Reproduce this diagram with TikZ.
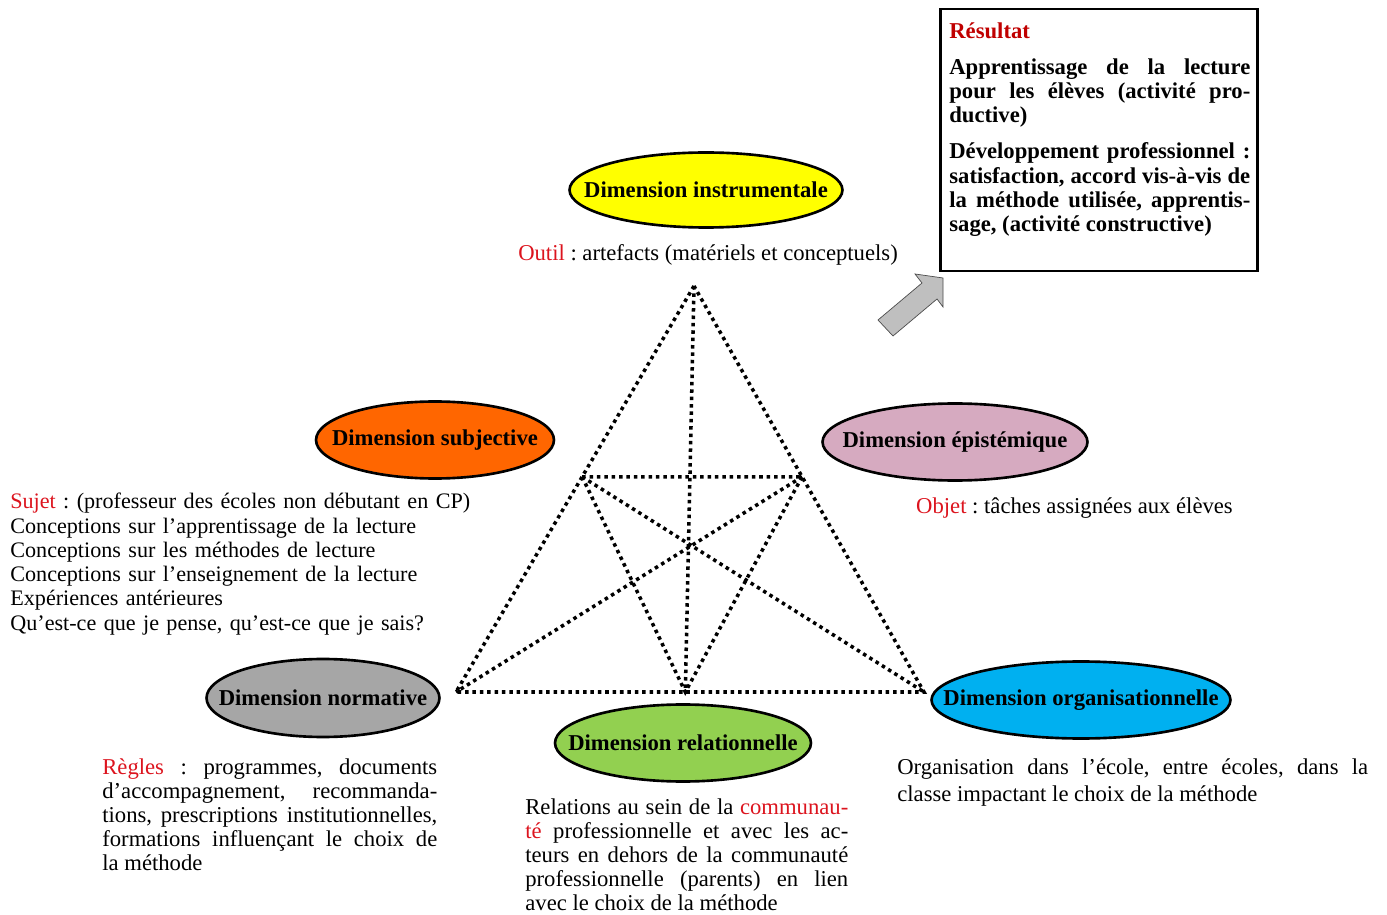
\documentclass[tikz,border=0pt]{standalone}
\usepackage{fontspec}
\setmainfont{Liberation Serif}
\usetikzlibrary{calc,shapes.geometric}
\definecolor{vang}{RGB}{255,255,0}
\definecolor{cam}{RGB}{255,102,0}
\definecolor{hong}{RGB}{214,170,192}
\definecolor{xam}{RGB}{166,166,166}
\definecolor{xanhla}{RGB}{146,208,80}
\definecolor{xanhduong}{RGB}{0,176,240}
\definecolor{do}{RGB}{220,20,30}
\definecolor{dodam}{RGB}{192,0,0}
\newcommand{\dong}[1]{\makebox[\linewidth][s]{#1}\\}
\frenchspacing
\begin{document}
\begin{tikzpicture}
  [x=.02cm,y=-.02cm,
  font=\fontsize{12.9}{13.8}\selectfont,
  chieu/.style={ellipse,draw,line width=1.5pt,inner sep=0pt},
  cham/.style={line width=2pt,dash pattern=on 2pt off 2.2pt},
  chu/.style={inner sep=0pt,align=justify}]
  \useasboundingbox (0,0) rectangle (1387,915);
  \path
  (694,286) coordinate (A)
  (456,692) coordinate (B)
  (924,692) coordinate (C)
  ($(A)!.47!(B)$) coordinate (P)
  ($(A)!.47!(C)$) coordinate (Q)
  ($(B)!.49!(C)$) coordinate (R);
  % tam giác và các đường chấm
  \draw[cham] (A)--(B)--(C)--cycle (A)--(R) (P)--(Q)
  (P)--(C) (Q)--(B) (P)--(R)--(Q);
  % các chiều
  \foreach \n/\x/\y/\w/\h/\c/\t in {
    I/706/190/5.46/1.50/vang/Dimension instrumentale,
    S/435/440/4.76/1.54/cam/Dimension subjective,
    E/955/442/5.30/1.54/hong/Dimension épistémique,
    N/323/698/4.66/1.56/xam/Dimension normative,
    R/683/743/5.12/1.54/xanhla/Dimension relationnelle,
    O/1081/700/5.98/1.54/xanhduong/Dimension organisationnelle}
  \node[chieu,fill=\c,minimum width=\w cm,minimum height=\h cm,
  label={[font=\fontsize{12.9}{13.8}\selectfont\bfseries]center:\t}]
  (\n) at (\x,\y) {};
  % kết quả
  \draw[line width=1.7pt] (940,9) rectangle (1257,271);
  \node[chu,text width=6.02cm,anchor=base west,font=\fontsize{12.9}{13.8}\selectfont\bfseries]
  (ketqua) at (949,39) {%
    {\color{dodam}Résultat}\par\vspace{6.3pt}
    \dong{Apprentissage de la lecture}
    \dong{pour les élèves (activité pro-}
    ductive)\par\vspace{6.8pt}
    \dong{Développement professionnel :}
    \dong{satisfaction, accord vis-à-vis de}
    \dong{la méthode utilisée, apprentis-}
    sage, (activité constructive)};
  \draw[fill=black!25,draw=black!70]
  (878,320)--(922,283)--(915,274)--(943,278)--(943,307)--(937,299)--(893,336)--cycle;
  % các dòng chữ
  \node[anchor=base] (outil) at (708,261)
  {\textcolor{do}{Outil} : artefacts (matériels et conceptuels)};
  \node[anchor=base west] (objet) at (910,514)
  {\textcolor{do}{Objet} : tâches assignées aux élèves};
  \node[chu,text width=9.5cm,align=left,anchor=base west,
  font=\fontsize{12.6}{13.8}\selectfont] (sujet) at (10,509)
  {\textcolor{do}{Sujet} : (professeur des écoles non débutant en CP)\\
    Conceptions sur l’apprentissage de la lecture\\
    Conceptions sur les méthodes de lecture\\
    Conceptions sur l’enseignement de la lecture\\
    Expériences antérieures\\
    Qu’est-ce que je pense, qu’est-ce que je sais?};
  \node[chu,text width=6.7cm,anchor=base west] (regles) at (102,774)
  {\dong{\textcolor{do}{Règles} : programmes, documents}
    \dong{d’accompagnement, recommanda-}
    \dong{tions, prescriptions institutionnelles,}
    \dong{formations influençant le choix de}
    la méthode};
  \node[chu,text width=6.46cm,anchor=base west] (relations) at (525,814)
  {\dong{Relations au sein de la \textcolor{do}{communau-}}
    \dong{\textcolor{do}{té} professionnelle  et avec les ac-}
    \dong{teurs en dehors de la communauté}
    \dong{professionnelle (parents) en lien}
    avec le choix de la méthode};
  \node[chu,text width=9.42cm,anchor=base west,font=\fontsize{12.9}{15.9}\selectfont]
  (organisation) at (897,774)
  {\dong{Organisation dans l’école, entre écoles, dans la}
    classe impactant le choix de la méthode};
\end{tikzpicture}
\end{document}
